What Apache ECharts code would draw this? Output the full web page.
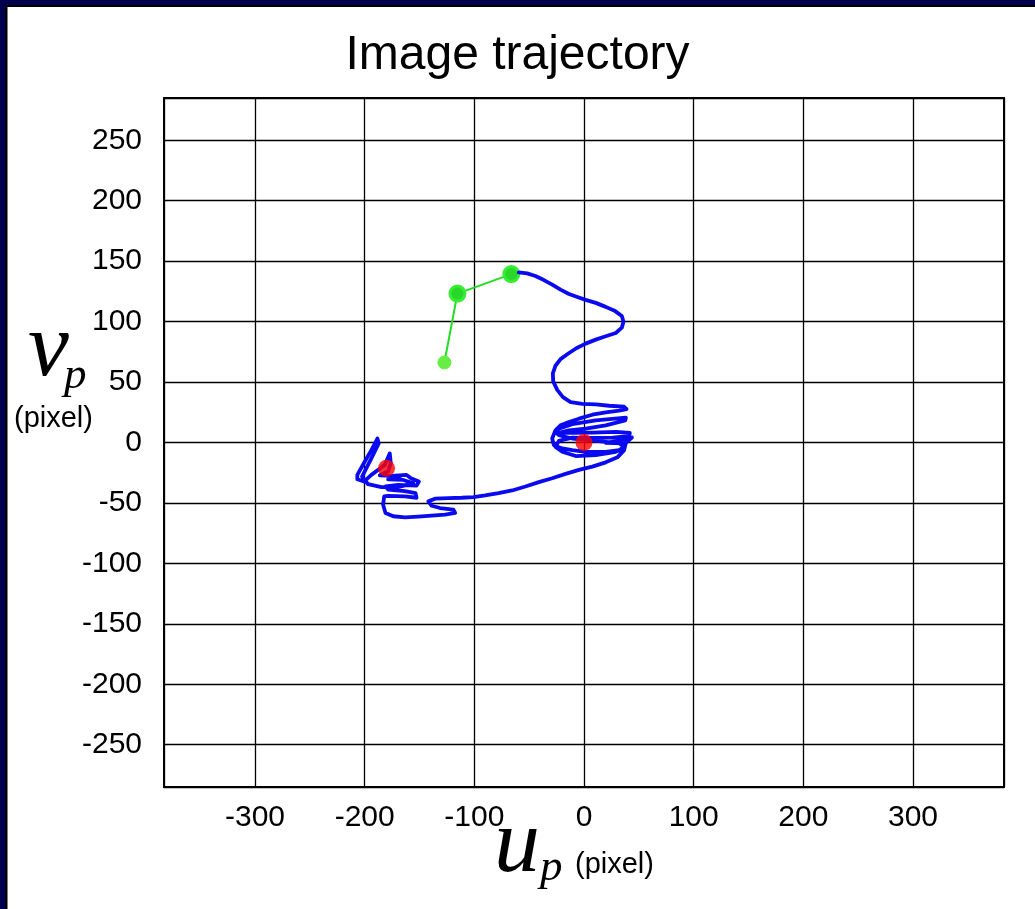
<!DOCTYPE html>
<html>
<head>
<meta charset="utf-8">
<script src="https://cdn.jsdelivr.net/npm/echarts@6/dist/echarts.min.js"></script>
<style>
html,body{margin:0;padding:0;background:#fff;}
#c{width:1035px;height:909px;}
</style>
</head>
<body>
<div id="c"></div>
<script>
// ---- data (image coordinates, pixels) ----
const titleText = 'Image trajectory';
const xTicks = [-300, -200, -100, 0, 100, 200, 300];
const yTicks = [-250, -200, -150, -100, -50, 0, 50, 100, 150, 200, 250];

// desired-to-start green path
const greenU = [-127.3, -115.4, -66.3];
const greenV = [66.2, 123.2, 139.3];

// blue measured trajectory
const blueU = [-59.5,-51.9,-44.3,-36.6,-29.0,-21.4,-13.7,-6.1,1.5,10.7,19.8,28.4,34.5,36.0,34.5,29.0,19.8,10.7,1.5,-7.0,-14.3,-21.4,-26.0,-28.4,-28.1,-24.4,-19.2,-12.2,-1.5,10.7,22.9,36.6,38.8,32.1,19.8,7.6,-4.6,-13.7,-21.4,
  -26.0,-29.0,-27.5,-19.8,-10.7,1.5,19.8,32.1,36.6,32.1,19.8,4.6,-10.7,-22.9,-26.0,-22.9,
  -10.7,10.7,38.2,37.6,19.8,1.5,-13.7,-22.9,-10.7,7.6,29.0,41.8,41.2,26.0,7.6,-10.7,-22.9,-26.0,-19.8,-7.6,10.7,29.0,36.6,35.1,19.8,35.1,43.7,38.2,36.6,30.5,19.8,7.6,-4.6,-16.8,-29.0,-41.2,-53.4,-65.6,-77.9,-90.1,-100.7,-111.4,-123.6,-135.9,-142.0,-138.9,-131.3,-119.1,-117.5,-126.7,-138.9,-151.1,-163.3,-174.0,-181.0,-183.2,-182.2,
  -178.6,-163.3,-152.7,-153.6,-163.3,-178.6,-181.0,-169.4,-152.7,-150.5,-157.8,-161.8,-175.5,-186.2,-178.6,-176.2,-177.1,-181.7,-193.9,-200.6,-206.7,-206.7,-200.0,-193.9,-188.4,-187.2,-193.9,-202.4,-196.9,-184.7,-169.4,-155.6,-164.8,-178.6,-167.9];
const blueV = [140.7,139.9,137.7,134.4,130.6,126.5,122.9,120.4,118.0,115.5,112.2,108.7,104.6,99.9,95.0,90.6,87.9,85.1,81.8,78.0,73.6,69.0,63.5,57.2,50.6,43.5,37.5,33.4,32.0,31.5,30.4,29.6,27.6,26.3,24.9,23.0,19.7,17.0,14.2,
  10.1,3.3,-2.2,-4.9,-6.3,-7.7,-7.7,-6.3,-3.6,-0.8,0.5,1.9,3.3,6.0,8.8,11.5,
  15.1,18.3,20.5,18.3,14.2,11.5,10.1,7.9,7.9,8.2,8.8,7.9,5.2,4.1,3.8,4.1,1.4,-3.6,-7.7,-11.2,-10.4,-7.7,-4.9,-0.8,-0.3,1.9,4.1,-0.3,-6.3,-12.3,-16.4,-20.0,-22.7,-26.0,-29.6,-32.8,-36.4,-39.7,-41.9,-43.8,-45.2,-45.7,-46.0,-46.5,-48.7,-52.3,-54.2,-55.6,-58.3,-59.7,-60.5,-61.3,-61.9,-61.0,-58.3,-51.5,-44.6,
  -44.1,-44.6,-45.7,-41.9,-40.2,-38.9,-36.4,-35.0,-35.6,-32.3,-29.6,-26.8,-27.6,-27.1,-23.8,-17.2,-9.0,-18.6,-26.8,-32.3,-30.4,-26.8,-15.9,-6.3,3.3,-0.8,-13.1,-28.2,-34.5,-36.9,-36.9,-33.7,-31.0,-30.4,-29.6];

// red markers (start and end image points)
const redU = [0, -180.1];
const redV = [0, -21.3];

// axis extents
const xMin = -383, xMax = 383;
const yMin = -285, yMax = 285;

// ---- build ----
const greenData = greenU.map((u, i) => ({
  value: [u, greenV[i]],
  symbolSize: i === 0 ? 13 : 15,
  itemStyle: i === 0 ? { color: '#66ee44', borderColor: '#66ee44', borderWidth: 1 }
                     : { color: '#2ad62a', borderColor: '#33ee33', borderWidth: 3 }
}));
const blueData = blueU.map((u, i) => [u, blueV[i]]);
const redData = redU.map((u, i) => [u, redV[i]]);

const chart = echarts.init(document.getElementById('c'), null, { renderer: 'canvas' });
const sans = 'Liberation Sans, Arial, sans-serif';
const serif = 'Liberation Serif, Times New Roman, serif';

chart.setOption({
  backgroundColor: '#ffffff',
  animation: false,
  title: {
    text: titleText,
    left: 'center',
    top: 27,
    textStyle: { fontFamily: sans, fontSize: 48, fontWeight: 'normal', color: '#000' }
  },
  grid: {
    left: 164, right: 31, top: 98, bottom: 122,
    show: true, borderColor: '#000', borderWidth: 2, backgroundColor: '#fff'
  },
  xAxis: {
    type: 'value', min: xMin, max: xMax, splitNumber: 8,
    axisLine: { show: true, onZero: false, lineStyle: { color: '#000', width: 2 } },
    axisTick: { show: false },
    splitLine: { show: true, lineStyle: { color: '#000', width: 1.3 } },
    axisLabel: {
      show: true, color: '#000', fontFamily: sans, fontSize: 30, margin: 16,
      showMinLabel: false, showMaxLabel: false,
      formatter: v => (xTicks.indexOf(v) >= 0 ? String(v) : '')
    }
  },
  yAxis: {
    type: 'value', min: yMin, max: yMax, splitNumber: 11,
    axisLine: { show: true, onZero: false, lineStyle: { color: '#000', width: 2 } },
    axisTick: { show: false },
    splitLine: { show: true, lineStyle: { color: '#000', width: 1.3 } },
    axisLabel: {
      show: true, color: '#000', fontFamily: sans, fontSize: 30, margin: 22,
      showMinLabel: false, showMaxLabel: false,
      formatter: v => (yTicks.indexOf(v) >= 0 ? String(v) : '')
    }
  },
  series: [
    {
      type: 'line', name: 'desired', data: greenData, z: 3,
      lineStyle: { color: '#22dd22', width: 2 },
      symbol: 'circle', showSymbol: true
    },
    {
      type: 'line', name: 'trajectory', data: blueData, z: 4,
      lineStyle: { color: '#0a0af0', width: 3.8, join: 'round', cap: 'round' },
      showSymbol: false, symbol: 'none'
    },
    {
      type: 'scatter', name: 'points', data: redData, z: 5,
      symbol: 'circle', symbolSize: 17,
      itemStyle: { color: '#ff0000' }
    }
  ],
  graphic: [
    { type: 'rect', left: 0, top: 0, z: 100, shape: { width: 1035, height: 5 }, style: { fill: '#000050' } },
    { type: 'rect', left: 5, top: 5, z: 100, shape: { width: 1030, height: 2 }, style: { fill: '#000000' } },
    { type: 'rect', left: 0, top: 0, z: 100, shape: { width: 5, height: 909 }, style: { fill: '#000050' } },
    { type: 'rect', left: 5, top: 5, z: 100, shape: { width: 2.5, height: 904 }, style: { fill: '#000000' } },
    // y axis name: v_p (pixel)
    { type: 'text', x: 28, y: 351, z: 100, style: { text: 'v', fill: '#000', font: 'italic 92px ' + serif, textVerticalAlign: 'middle' } },
    { type: 'text', x: 64, y: 376, z: 100, style: { text: 'p', fill: '#000', font: 'italic 45px ' + serif, textVerticalAlign: 'middle' } },
    { type: 'text', x: 14, y: 419, z: 100, style: { text: '(pixel)', fill: '#000', font: '29px ' + sans, textVerticalAlign: 'middle' } },
    // x axis name: u_p (pixel)
    { type: 'text', x: 494, y: 847, z: 100, style: { text: 'u', fill: '#000', font: 'italic 92px ' + serif, textVerticalAlign: 'middle' } },
    { type: 'text', x: 540, y: 868, z: 100, style: { text: 'p', fill: '#000', font: 'italic 45px ' + serif, textVerticalAlign: 'middle' } },
    { type: 'text', x: 575, y: 865, z: 100, style: { text: '(pixel)', fill: '#000', font: '29px ' + sans, textVerticalAlign: 'middle' } }
  ]
});
</script>
</body>
</html>
